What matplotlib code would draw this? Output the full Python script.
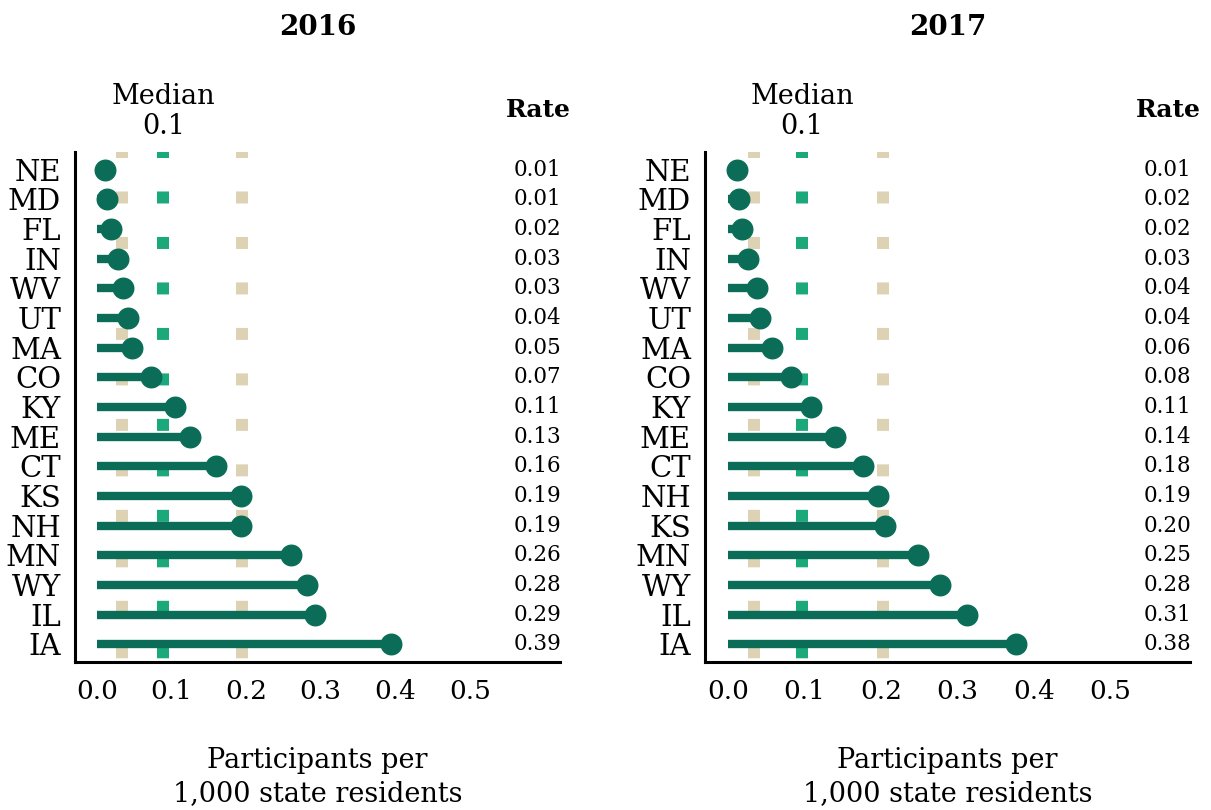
import matplotlib
matplotlib.use('Agg')
import matplotlib.pyplot as plt
import matplotlib.transforms as mtransforms

plt.rcParams['font.family'] = ['DejaVu Serif']

# data
states_2016 = ['NE', 'MD', 'FL', 'IN', 'WV', 'UT', 'MA', 'CO', 'KY',
               'ME', 'CT', 'KS', 'NH', 'MN', 'WY', 'IL', 'IA']
values_2016 = [0.011, 0.014, 0.019, 0.028, 0.035, 0.041, 0.047, 0.072, 0.105,
               0.125, 0.160, 0.193, 0.193, 0.260, 0.281, 0.292, 0.394]
rates_2016 = ['0.01', '0.01', '0.02', '0.03', '0.03', '0.04', '0.05', '0.07', '0.11',
              '0.13', '0.16', '0.19', '0.19', '0.26', '0.28', '0.29', '0.39']
refs_2016 = [0.033, 0.089, 0.194]   # lower ref, median, upper ref

states_2017 = ['NE', 'MD', 'FL', 'IN', 'WV', 'UT', 'MA', 'CO', 'KY',
               'ME', 'CT', 'NH', 'KS', 'MN', 'WY', 'IL', 'IA']
values_2017 = [0.012, 0.014, 0.018, 0.026, 0.038, 0.042, 0.058, 0.083, 0.108,
               0.140, 0.177, 0.196, 0.205, 0.248, 0.277, 0.313, 0.376]
rates_2017 = ['0.01', '0.02', '0.02', '0.03', '0.04', '0.04', '0.06', '0.08', '0.11',
              '0.14', '0.18', '0.19', '0.20', '0.25', '0.28', '0.31', '0.38']
refs_2017 = [0.034, 0.097, 0.203]

xticks = [0.0, 0.1, 0.2, 0.3, 0.4, 0.5]
median_label = 'Median\n0.1'
xlabel = 'Participants per\n1,000 state residents'

DARK = '#0b6d57'
MEDIAN = '#1ba87b'
BEIGE = '#ded2b4'

W, H = 1211, 810
fig = plt.figure(figsize=(W / 100, H / 100), dpi=100)


def panel(rect, title, states, values, rates, refs, xlim):
    ax = fig.add_axes(rect)
    n = len(states)
    ylim = (n - 0.4, -0.6)
    ax.set_ylim(ylim)
    ax.set_xlim(xlim)

    # dotted reference lines (square dashes)
    for x, c in zip(refs, [BEIGE, MEDIAN, BEIGE]):
        ax.plot([x, x], [ylim[1], ylim[0]], color=c, lw=8.64,
                linestyle=(0.5, (1.0, 2.79)), solid_capstyle='butt',
                dash_capstyle='butt', zorder=1)

    ys = list(range(n))
    ax.hlines(ys, 0, values, color=DARK, lw=6.0, zorder=2)
    ax.plot(values, ys, 'o', color=DARK, ms=14.8, mec=DARK, zorder=3)

    ax.set_yticks(ys)
    ax.set_yticklabels(states, fontsize=21)
    ax.set_xticks(xticks)
    ax.set_xticklabels(['%.1f' % t for t in xticks], fontsize=19)
    ax.tick_params(axis='y', length=0, pad=10)
    ax.tick_params(axis='x', length=0, pad=12)

    for s in ['top', 'right']:
        ax.spines[s].set_visible(False)
    for s in ['left', 'bottom']:
        ax.spines[s].set_linewidth(2.2)
        ax.spines[s].set_color('black')

    tr = mtransforms.blended_transform_factory(ax.transAxes, ax.transData)
    for y, r in zip(ys, rates):
        ax.text(1.003, y, r, transform=tr, ha='right', va='center', fontsize=15.5)

    ax.text(1.023, 1.082, 'Rate', transform=ax.transAxes, ha='right',
            va='center', fontsize=18, fontweight='bold')

    tr2 = mtransforms.blended_transform_factory(ax.transData, ax.transAxes)
    ax.text(refs[1], 1.08, median_label, transform=tr2, ha='center',
            va='center', fontsize=19.5, linespacing=1.15)

    ax.text(0.5, 1.245, title, transform=ax.transAxes, ha='center',
            va='center', fontsize=20, fontweight='bold')
    ax.text(0.5, -0.225, xlabel, transform=ax.transAxes, ha='center',
            va='center', fontsize=19.5, linespacing=1.3)
    return ax


ax_h = 510 / H
ax_b = 148 / H
panel([75 / W, ax_b, 485 / W, ax_h], '2016', states_2016, values_2016,
      rates_2016, refs_2016, (-0.0295, 0.621))
panel([705 / W, ax_b, 485 / W, ax_h], '2017', states_2017, values_2017,
      rates_2017, refs_2017, (-0.030, 0.604))

fig.savefig('out.png', dpi=100, facecolor='white')
